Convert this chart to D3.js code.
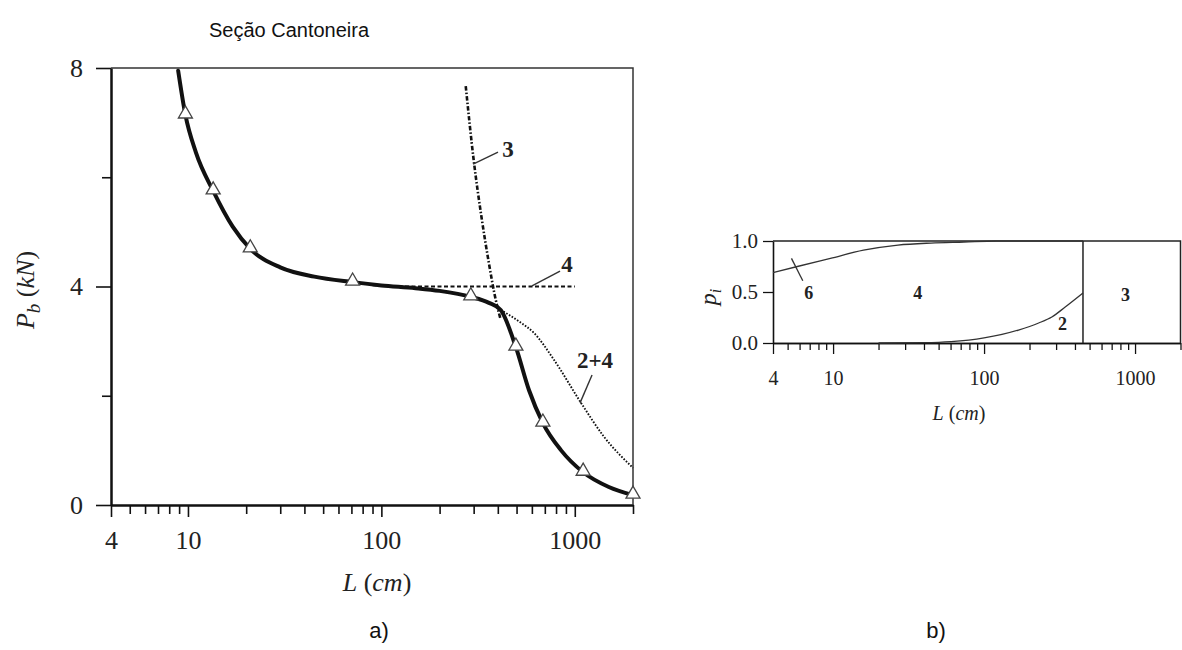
<!DOCTYPE html>
<html>
<head>
<meta charset="utf-8">
<script src="https://cdn.jsdelivr.net/npm/d3@7"></script>
<style>
  body { margin: 0; background: #fff; }
  svg { display: block; }
</style>
</head>
<body>
<svg id="chart" width="1182" height="650"></svg>
<script>
// ---------- tick values ----------
const lengthTicks = [4, 5, 6, 7, 8, 9, 10, 20, 30, 40, 50, 60, 70, 80, 90, 100,
                     200, 300, 400, 500, 600, 700, 800, 900, 1000, 2000];
const lengthLabelTicks = [4, 10, 100, 1000];
const loadTicks = [0, 2, 4, 6, 8];
const loadLabelTicks = [0, 4, 8];
const probTicks = [0, 0.5, 1.0];

// ---------- a) buckling load of the angle section ----------
// combined (system) curve
const mainL = [8.9, 9.7, 11, 13.5, 17, 21, 30, 45, 71, 100, 150, 200, 290, 360, 414, 496, 580, 684, 850, 1105, 1500, 2000];
const mainP = [7.95, 7.14, 6.45, 5.75, 5.1, 4.69, 4.35, 4.18, 4.08, 4.02, 3.97, 3.92, 3.81, 3.7, 3.57, 2.89, 2.1, 1.50, 1.0, 0.60, 0.33, 0.18];
// simulated points (triangles)
const markerL = [9.7, 13.5, 21, 71, 290, 496, 684, 1105, 2000];
const markerP = [7.14, 5.75, 4.69, 4.08, 3.81, 2.89, 1.50, 0.60, 0.18];
// single-mode curves
const mode4L = [90, 150, 300, 600, 1000];
const mode4P = [4.02, 4.0, 4.0, 4.0, 4.0];
const mode3L = [273, 300, 330, 360, 390, 412];
const mode3P = [7.67, 6.32, 5.25, 4.42, 3.76, 3.42];
const mode24L = [414, 520, 615, 780, 1077, 1416, 2000];
const mode24P = [3.57, 3.35, 3.15, 2.66, 1.87, 1.25, 0.68];

// ---------- b) mode probabilities ----------
const upperL = [4, 5.8, 9.6, 15.9, 26.9, 44.5, 73.6, 120, 452];
const upperP = [0.69, 0.75, 0.83, 0.91, 0.96, 0.98, 0.99, 1.0, 1.0];
const lowerL = [20, 40, 60.5, 100, 169, 230, 281, 343, 452];
const lowerP = [0, 0.003, 0.013, 0.05, 0.127, 0.196, 0.255, 0.35, 0.49];
const switchL = 452;

const serif = "'Liberation Serif', 'Times New Roman', serif";
const sans = "'Liberation Sans', Arial, sans-serif";
const ink = "#111";
const textInk = "#222";

const svg = d3.select("#chart");

// ================= panel a =================
const xA = d3.scaleLog().domain([4, 2000]).range([111, 633]);
const yA = d3.scaleLinear().domain([0, 8]).range([505, 68]);
const pa = svg.append("g");

function styleAxis(g, size, width) {
  g.attr("font-family", serif).attr("font-size", size);
  g.selectAll("path.domain").attr("stroke", ink).attr("stroke-width", width);
  g.selectAll(".tick line").attr("stroke", ink).attr("stroke-width", width * 0.8);
  g.selectAll(".tick text").attr("fill", textInk);
}

// x axis (minor + labelled ticks)
pa.append("g").attr("transform", `translate(0,${yA(0)})`)
  .call(d3.axisBottom(xA).tickValues(lengthTicks.filter(v => !lengthLabelTicks.includes(v)))
        .tickSize(9).tickSizeOuter(0).tickFormat(""))
  .call(g => styleAxis(g, 26, 2));
pa.append("g").attr("transform", `translate(0,${yA(0)})`)
  .call(d3.axisBottom(xA).tickValues(lengthLabelTicks).tickSize(12).tickPadding(14)
        .tickSizeOuter(0).tickFormat(d3.format("d")))
  .call(g => styleAxis(g, 26, 2));

// y axis
pa.append("g").attr("transform", `translate(${xA(4)},0)`)
  .call(d3.axisLeft(yA).tickValues(loadTicks.filter(v => !loadLabelTicks.includes(v)))
        .tickSize(9).tickSizeOuter(0).tickFormat(""))
  .call(g => styleAxis(g, 26, 2));
pa.append("g").attr("transform", `translate(${xA(4)},0)`)
  .call(d3.axisLeft(yA).tickValues(loadLabelTicks).tickSize(15).tickPadding(13)
        .tickSizeOuter(0).tickFormat(d3.format("d")))
  .call(g => styleAxis(g, 26, 2));

// frame (top and right)
pa.append("path")
  .attr("d", `M${xA(4)},${yA(8)}H${xA(2000)}V${yA(0)}`)
  .attr("fill", "none").attr("stroke", "#333").attr("stroke-width", 1.5);

const lineA = d3.line().x(d => xA(d[0])).y(d => yA(d[1])).curve(d3.curveMonotoneX);
const zip = (a, b) => a.map((v, i) => [v, b[i]]);

// mode 2+4 (dotted)
pa.append("path").attr("d", lineA(zip(mode24L, mode24P)))
  .attr("fill", "none").attr("stroke", ink).attr("stroke-width", 1.9)
  .attr("stroke-dasharray", "1.6 1.6");
// mode 3 (dash-dot)
pa.append("path").attr("d", lineA(zip(mode3L, mode3P)))
  .attr("fill", "none").attr("stroke", ink).attr("stroke-width", 2.6)
  .attr("stroke-dasharray", "4.5 2 1.5 2");
// mode 4 (dashed)
pa.append("path").attr("d", lineA(zip(mode4L, mode4P)))
  .attr("fill", "none").attr("stroke", ink).attr("stroke-width", 1.8)
  .attr("stroke-dasharray", "4 2.5");
// system curve
pa.append("path").attr("d", lineA(zip(mainL, mainP)))
  .attr("fill", "none").attr("stroke", ink).attr("stroke-width", 4)
  .attr("stroke-linejoin", "round").attr("stroke-linecap", "round");

// triangles
const tri = d3.symbol().type(d3.symbolTriangle).size(85);
pa.selectAll("path.marker").data(zip(markerL, markerP)).join("path")
  .attr("class", "marker")
  .attr("transform", d => `translate(${xA(d[0])},${yA(d[1]) - 1})`)
  .attr("d", tri)
  .attr("fill", "#fff").attr("stroke", "#444").attr("stroke-width", 1.3);

// curve labels with leaders (data coordinates)
const labelsA = [
  { text: "3",   at: [452, 6.37],  from: [298, 6.24], to: [401, 6.46] },
  { text: "4",   at: [912, 4.27],  from: [601, 4.01], to: [839, 4.28] },
  { text: "2+4", at: [1273, 2.51], from: [1065, 1.87], to: [1228, 2.38] }
];
labelsA.forEach(l => {
  pa.append("line")
    .attr("x1", xA(l.from[0])).attr("y1", yA(l.from[1]))
    .attr("x2", xA(l.to[0])).attr("y2", yA(l.to[1]))
    .attr("stroke", "#333").attr("stroke-width", 1.4);
  pa.append("text").attr("x", xA(l.at[0])).attr("y", yA(l.at[1]))
    .attr("text-anchor", "middle").attr("font-family", serif)
    .attr("font-size", 23).attr("font-weight", "bold").attr("fill", textInk)
    .text(l.text);
});

// axis titles
const xtA = pa.append("text").attr("x", 377).attr("y", 591)
  .attr("text-anchor", "middle").attr("font-family", serif).attr("font-size", 26).attr("fill", textInk);
xtA.append("tspan").attr("font-style", "italic").text("L");
xtA.append("tspan").text(" (");
xtA.append("tspan").attr("font-style", "italic").text("cm");
xtA.append("tspan").text(")");

const ytA = pa.append("text").attr("transform", "translate(34,290) rotate(-90)")
  .attr("text-anchor", "middle").attr("font-family", serif).attr("font-size", 26).attr("fill", textInk);
ytA.append("tspan").attr("font-style", "italic").text("P");
ytA.append("tspan").attr("font-style", "italic").attr("font-size", 19).attr("dy", 6).text("b");
ytA.append("tspan").attr("dy", -6).text(" (");
ytA.append("tspan").attr("font-style", "italic").text("kN");
ytA.append("tspan").text(")");

svg.append("text").attr("x", 289).attr("y", 37).attr("text-anchor", "middle")
  .attr("font-family", sans).attr("font-size", 20).attr("fill", "#111").text("Seção Cantoneira");
svg.append("text").attr("x", 379).attr("y", 638).attr("text-anchor", "middle")
  .attr("font-family", sans).attr("font-size", 22).attr("fill", "#111").text("a)");

// ================= panel b =================
const xB = d3.scaleLog().domain([4, 2000]).range([773, 1180.5]);
const yB = d3.scaleLinear().domain([0, 1]).range([343, 241]);
const pb = svg.append("g");

pb.append("g").attr("transform", `translate(0,${yB(0)})`)
  .call(d3.axisBottom(xB).tickValues(lengthTicks.filter(v => !lengthLabelTicks.includes(v)))
        .tickSize(7).tickSizeOuter(0).tickFormat(""))
  .call(g => styleAxis(g, 20, 1.6));
pb.append("g").attr("transform", `translate(0,${yB(0)})`)
  .call(d3.axisBottom(xB).tickValues(lengthLabelTicks).tickSize(11).tickPadding(17)
        .tickSizeOuter(0).tickFormat(d3.format("d")))
  .call(g => styleAxis(g, 20, 1.6));
pb.append("g").attr("transform", `translate(${xB(4)},0)`)
  .call(d3.axisLeft(yB).tickValues(probTicks).tickSize(10).tickPadding(5)
        .tickSizeOuter(0).tickFormat(d3.format(".1f")))
  .call(g => styleAxis(g, 21, 1.6));

pb.append("path")
  .attr("d", `M${xB(4)},${yB(1)}H${xB(2000)}V${yB(0)}`)
  .attr("fill", "none").attr("stroke", "#222").attr("stroke-width", 1.5);
pb.append("line")
  .attr("x1", xB(switchL)).attr("x2", xB(switchL))
  .attr("y1", yB(0)).attr("y2", yB(1))
  .attr("stroke", "#222").attr("stroke-width", 1.5);

const lineB = d3.line().x(d => xB(d[0])).y(d => yB(d[1])).curve(d3.curveMonotoneX);
pb.append("path").attr("d", lineB(zip(upperL, upperP)))
  .attr("fill", "none").attr("stroke", "#333").attr("stroke-width", 1.3);
pb.append("path").attr("d", lineB(zip(lowerL, lowerP)))
  .attr("fill", "none").attr("stroke", "#333").attr("stroke-width", 1.3);

// region labels
const labelsB = [
  { text: "6", at: [6.9, 0.43] },
  { text: "4", at: [36.4, 0.43] },
  { text: "2", at: [331, 0.127] },
  { text: "3", at: [865, 0.41] }
];
labelsB.forEach(l => {
  pb.append("text").attr("x", xB(l.at[0])).attr("y", yB(l.at[1]))
    .attr("text-anchor", "middle").attr("font-family", serif)
    .attr("font-size", 18).attr("font-weight", "bold").attr("fill", textInk)
    .text(l.text);
});
pb.append("line")
  .attr("x1", xB(5.3)).attr("y1", yB(0.83))
  .attr("x2", xB(6.3)).attr("y2", yB(0.61))
  .attr("stroke", "#333").attr("stroke-width", 1.3);

const xtB = pb.append("text").attr("x", 959).attr("y", 420)
  .attr("text-anchor", "middle").attr("font-family", serif).attr("font-size", 20).attr("fill", textInk);
xtB.append("tspan").attr("font-style", "italic").text("L");
xtB.append("tspan").text(" (");
xtB.append("tspan").attr("font-style", "italic").text("cm");
xtB.append("tspan").text(")");

const ytB = pb.append("text").attr("transform", "translate(716,297) rotate(-90)")
  .attr("text-anchor", "middle").attr("font-family", serif).attr("font-size", 24).attr("fill", textInk);
ytB.append("tspan").attr("font-style", "italic").text("p");
ytB.append("tspan").attr("font-style", "italic").attr("font-size", 16).attr("dy", 5).text("i");

svg.append("text").attr("x", 936).attr("y", 638).attr("text-anchor", "middle")
  .attr("font-family", sans).attr("font-size", 22).attr("fill", "#111").text("b)");
</script>
</body>
</html>
